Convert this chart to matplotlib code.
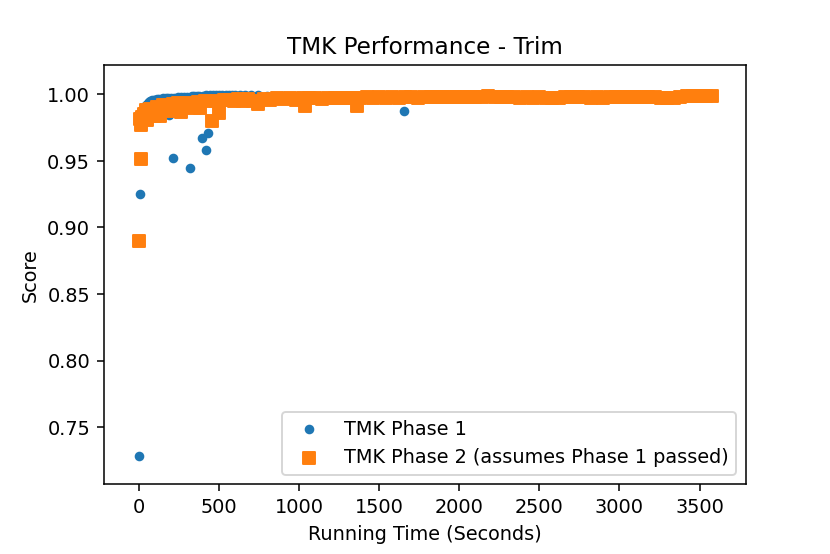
import matplotlib
matplotlib.use('Agg')
import matplotlib.pyplot as plt

# Phase 1 (blue dots)
fase1_tempo = [0, 7, 27, 30, 35, 40, 45, 55, 62, 70, 80, 90, 100, 110, 125, 140, 150, 165,
               180, 188, 200, 213, 220, 240, 260, 280, 300, 318, 330, 345, 360, 375, 391,
               400, 416, 420, 428, 440, 460, 480, 500, 520, 540, 560, 580, 600, 630, 660,
               700, 740, 800, 900, 1000, 1100, 1200, 1300, 1400, 1500, 1600, 1655, 1700,
               1800, 1900, 2000, 2100, 2200, 2300, 2400, 2500, 2600, 2700, 2800, 2900,
               3000, 3100, 3200, 3300, 3400, 3500]
fase1_score = [0.7285, 0.925, 0.9875, 0.9885, 0.990, 0.991, 0.992, 0.9935, 0.9942, 0.995,
               0.9952, 0.9955, 0.9957, 0.996, 0.9963, 0.9965, 0.9967, 0.9969, 0.997,
               0.9845, 0.9972, 0.9519, 0.9973, 0.9975, 0.9978, 0.9979, 0.998, 0.9444,
               0.9982, 0.9984, 0.9987, 0.9987, 0.967, 0.9988, 0.958, 0.999, 0.9707, 0.999,
               0.9991, 0.9992, 0.9993, 0.9993, 0.9994, 0.9995, 0.9995, 0.9996, 0.9996,
               0.9995, 0.9994, 0.999, 0.9986, 0.9985, 0.9985, 0.9986, 0.9985, 0.9985,
               0.9986, 0.9985, 0.9985, 0.9871, 0.9986, 0.9985, 0.9985, 0.9986, 0.9985,
               0.9985, 0.9986, 0.9985, 0.9985, 0.9984, 0.9985, 0.9986, 0.9985, 0.9985,
               0.9985, 0.9984, 0.9985, 0.9986, 0.9985]

# Phase 2 (orange squares)
fase2_tempo = [0, 4, 8, 9, 20, 27, 45, 50, 70, 90, 110, 130, 150, 170, 190, 210, 240, 260,
               300, 340, 364, 380, 410, 452, 480, 500, 530, 560, 590, 620, 650, 680, 710,
               745, 780, 820, 860, 900, 940, 980, 1020, 1033, 1060, 1100, 1140, 1180, 1220,
               1260, 1300, 1340, 1360, 1380, 1420, 1460, 1500, 1540, 1580, 1620, 1660,
               1700, 1740, 1780, 1820, 1860, 1900, 1940, 1980, 2020, 2060, 2100, 2140,
               2180, 2220, 2260, 2300, 2340, 2380, 2420, 2460, 2500, 2540, 2580, 2620,
               2660, 2700, 2740, 2780, 2820, 2860, 2900, 2940, 2980, 3020, 3060, 3100,
               3140, 3180, 3220, 3260, 3300, 3340, 3380, 3420, 3460, 3500, 3540, 3575]
fase2_score = [0.890, 0.981, 0.977, 0.9514, 0.983, 0.985, 0.988, 0.9807, 0.989, 0.9833,
               0.990, 0.9833, 0.9917, 0.990, 0.987, 0.9925, 0.993, 0.9863, 0.9935, 0.9895,
               0.9942, 0.9895, 0.9945, 0.980, 0.995, 0.9857, 0.9955, 0.9958, 0.9945, 0.996,
               0.9948, 0.9963, 0.9948, 0.9925, 0.9965, 0.9957, 0.9967, 0.9962, 0.9968,
               0.9958, 0.997, 0.9908, 0.9968, 0.997, 0.9966, 0.9968, 0.997, 0.9967,
               0.9972, 0.997, 0.991, 0.9972, 0.9975, 0.9972, 0.9975, 0.9973, 0.9976,
               0.9974, 0.9977, 0.9975, 0.9973, 0.9976, 0.9975, 0.9977, 0.9976, 0.9978,
               0.9977, 0.998, 0.9978, 0.9981, 0.9979, 0.9982, 0.998, 0.9981, 0.9979,
               0.998, 0.9967, 0.9977, 0.9968, 0.9975, 0.9967, 0.9974, 0.9968, 0.9977,
               0.9975, 0.9977, 0.9981, 0.9967, 0.998, 0.9968, 0.9981, 0.9975, 0.998,
               0.9978, 0.9976, 0.9977, 0.9975, 0.9976, 0.9973, 0.997, 0.9972, 0.9975,
               0.9982, 0.9983, 0.9982, 0.9983, 0.9982]

fig = plt.figure(figsize=(830.3 / 138.4, 554.3 / 138.4), dpi=138.4)
ax = fig.add_axes([103.5 / 830, 1 - 484.3 / 554, (745.5 - 103.5) / 830, (484.3 - 65.7) / 554])

ax.scatter(fase1_tempo, fase1_score, s=16, color='C0', label='TMK Phase 1')
ax.scatter(fase2_tempo, fase2_score, s=36, marker='s', color='C1',
           label='TMK Phase 2 (assumes Phase 1 passed)')

ax.set_xlim(-223, 3789)
ax.set_ylim(0.7072, 1.0215)
ax.set_xticks([0, 500, 1000, 1500, 2000, 2500, 3000, 3500])
ax.set_yticks([0.75, 0.80, 0.85, 0.90, 0.95, 1.00])
ax.set_yticklabels(['0.75', '0.80', '0.85', '0.90', '0.95', '1.00'])

ax.set_title('TMK Performance - Trim')
ax.set_xlabel('Running Time (Seconds)')
ax.set_ylabel('Score')
ax.legend(loc='lower right')

fig.savefig('out.png', dpi=138.4)
